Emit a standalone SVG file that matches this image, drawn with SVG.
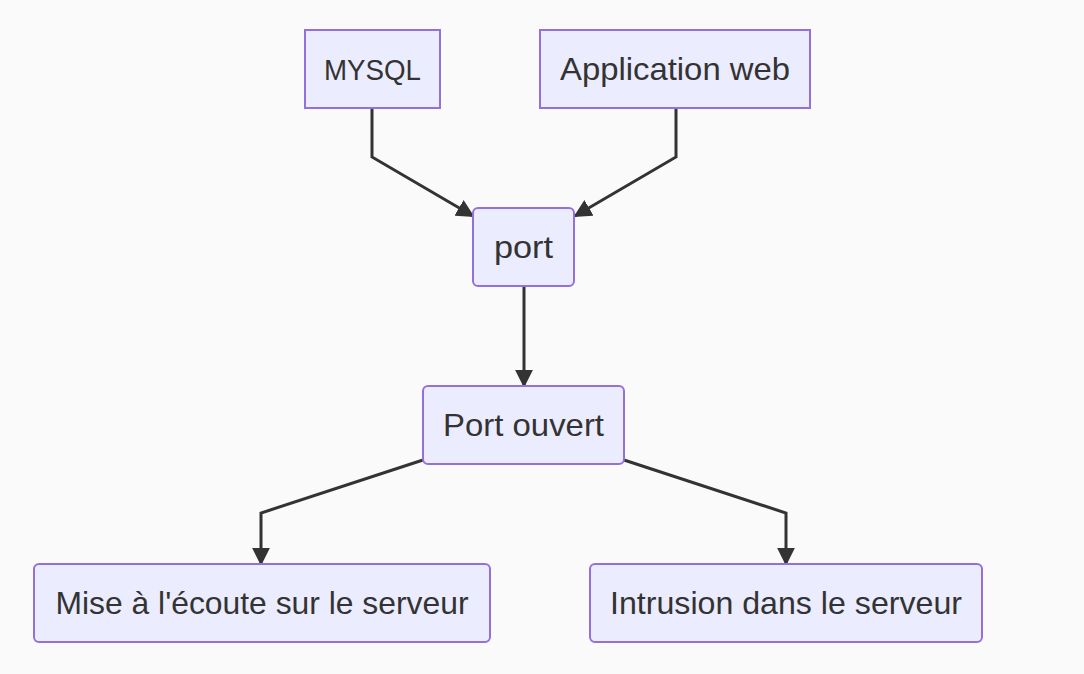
<svg xmlns="http://www.w3.org/2000/svg" width="1084" height="674" viewBox="0 0 1084 674">
<defs>
<style>
.node rect{fill:#ECECFF;stroke:#9370DB;stroke-width:2}
.node text{font-family:"Liberation Sans",Arial,sans-serif;font-size:32px;fill:#333;text-anchor:middle;dominant-baseline:central}
.edge{fill:none;stroke:#333;stroke-width:3}
</style>
<marker id="arrow" viewBox="0 0 10 10" refX="9" refY="5" markerWidth="6" markerHeight="6" markerUnits="strokeWidth" orient="auto">
<path d="M0,0 L10,5 L0,10 z" fill="#333"/>
</marker>
</defs>
<rect width="1084" height="674" fill="#fafafa"/>
<g id="connectors">
<path class="edge" d="M372,108 L372,157 L473,216" marker-end="url(#arrow)"/>
<path class="edge" d="M676,108 L676,157 L575,216" marker-end="url(#arrow)"/>
<path class="edge" d="M524,286 L524,386" marker-end="url(#arrow)"/>
<path class="edge" d="M423,460 L261,513 L261,564" marker-end="url(#arrow)"/>
<path class="edge" d="M624,460 L786,513 L786,564" marker-end="url(#arrow)"/>
</g>
<g id="mysql" class="node"><rect x="305" y="30" width="135" height="78"/><text x="372.5" y="69" style="font-size:30px" textLength="97" lengthAdjust="spacingAndGlyphs">MYSQL</text></g>
<g id="appweb" class="node"><rect x="540" y="30" width="270" height="78"/><text x="675" y="69" textLength="230" lengthAdjust="spacingAndGlyphs">Application web</text></g>
<g id="port" class="node"><rect x="473" y="208" width="101" height="78" rx="5"/><text x="523.5" y="247" textLength="59" lengthAdjust="spacingAndGlyphs">port</text></g>
<g id="portouvert" class="node"><rect x="423" y="386" width="201" height="78" rx="5"/><text x="523.5" y="425" textLength="161" lengthAdjust="spacingAndGlyphs">Port ouvert</text></g>
<g id="ecoute" class="node"><rect x="34" y="564" width="456" height="78" rx="5"/><text x="262" y="603" textLength="413" lengthAdjust="spacingAndGlyphs">Mise à l'écoute sur le serveur</text></g>
<g id="intrusion" class="node"><rect x="590" y="564" width="392" height="78" rx="5"/><text x="786" y="603" textLength="352" lengthAdjust="spacingAndGlyphs">Intrusion dans le serveur</text></g>
</svg>
